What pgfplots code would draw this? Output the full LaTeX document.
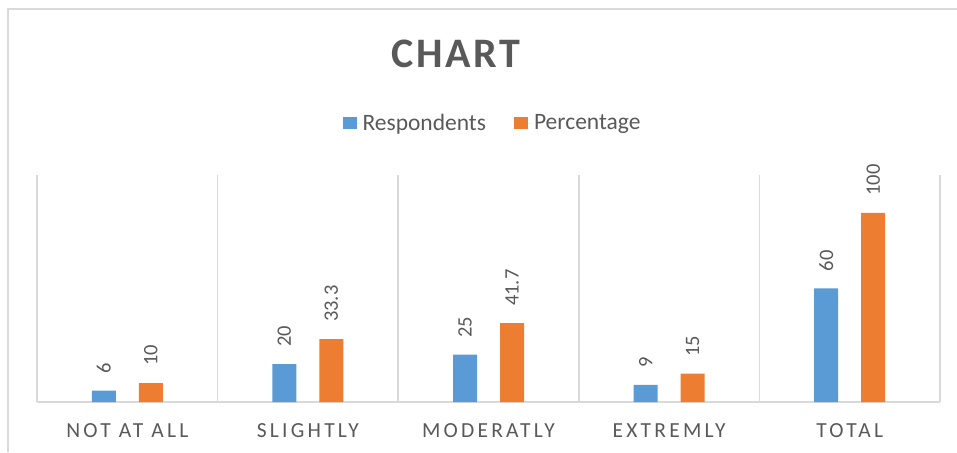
\documentclass[border=0pt]{standalone}
\usepackage{pgfplots}
\pgfplotsset{compat=1.18}
\usepackage{fontspec}
\setmainfont{Carlito}
\newfontfamily\titlefont[LetterSpace=6]{Carlito}
\newfontfamily\catfont[LetterSpace=15]{Carlito}
\definecolor{resp}{HTML}{5B9BD5}
\definecolor{perc}{HTML}{ED7D31}
\definecolor{txt}{HTML}{595959}
\definecolor{rule}{HTML}{D9D9D9}

\begin{document}
\begin{tikzpicture}[x=1pt,y=1pt]
\path[use as bounding box] (0,0) rectangle (957,452);
% chart frame
\draw[rule, line width=1.5pt] (8,0) -- (8,443) -- (957,443);
% title
\node[anchor=base, text=txt, font=\titlefont\fontsize{42}{42}\selectfont\bfseries] at (456,384) {CHART};
\begin{axis}[
  at={(37pt,50pt)}, anchor=south west,
  scale only axis, width=903pt, height=227pt,
  ybar, bar width=24pt,
  xmin=-0.5, xmax=4.5, ymin=0, ymax=120,
  axis line style={draw=none},
  ytick=\empty,
  xtick={0,...,4},
  xticklabels={NOT AT ALL, SLIGHTLY, MODERATLY, EXTREMLY, TOTAL},
  major tick length=0pt,
  xticklabel style={anchor=base, yshift=-35pt, text=txt, font=\catfont\fontsize{21.5}{21.5}\selectfont},
  minor xtick={-0.5,0.5,...,4.5},
  minor tick length=0pt,
  xminorgrids, minor x grid style={rule, line width=1.5pt},
  extra y ticks={0}, extra y tick labels={},
  extra y tick style={grid=major, major grid style={rule, line width=1.5pt}},
  point meta=explicit symbolic,
  nodes near coords,
  every node near coord/.append style={rotate=90, anchor=west, inner xsep=17pt, inner ysep=0pt, text=txt, font=\fontsize{20.5}{20.5}\selectfont},
  legend columns=2,
  legend style={at={(0.5044,1.229)}, anchor=center, draw=none, fill=none, text=txt, font=\fontsize{23.5}{23.5}\selectfont, /tikz/every even column/.append style={column sep=26pt}},
  legend image code/.code={\fill[#1] (0pt,-6pt) rectangle (14pt,6pt); \path (0pt,0pt) -- (18pt,0pt);},
  clip=false,
]
\addplot[fill=resp, draw=none, bar shift=-23.5pt] coordinates {(0,6) [6] (1,20) [20] (2,25) [25] (3,9) [9] (4,60) [60]};
\addplot[fill=perc, draw=none, bar shift=23.5pt] coordinates {(0,10) [10] (1,33.3) [33.3] (2,41.7) [41.7] (3,15) [15] (4,100) [100]};
\legend{Respondents, Percentage}
\end{axis}
\end{tikzpicture}
\end{document}
